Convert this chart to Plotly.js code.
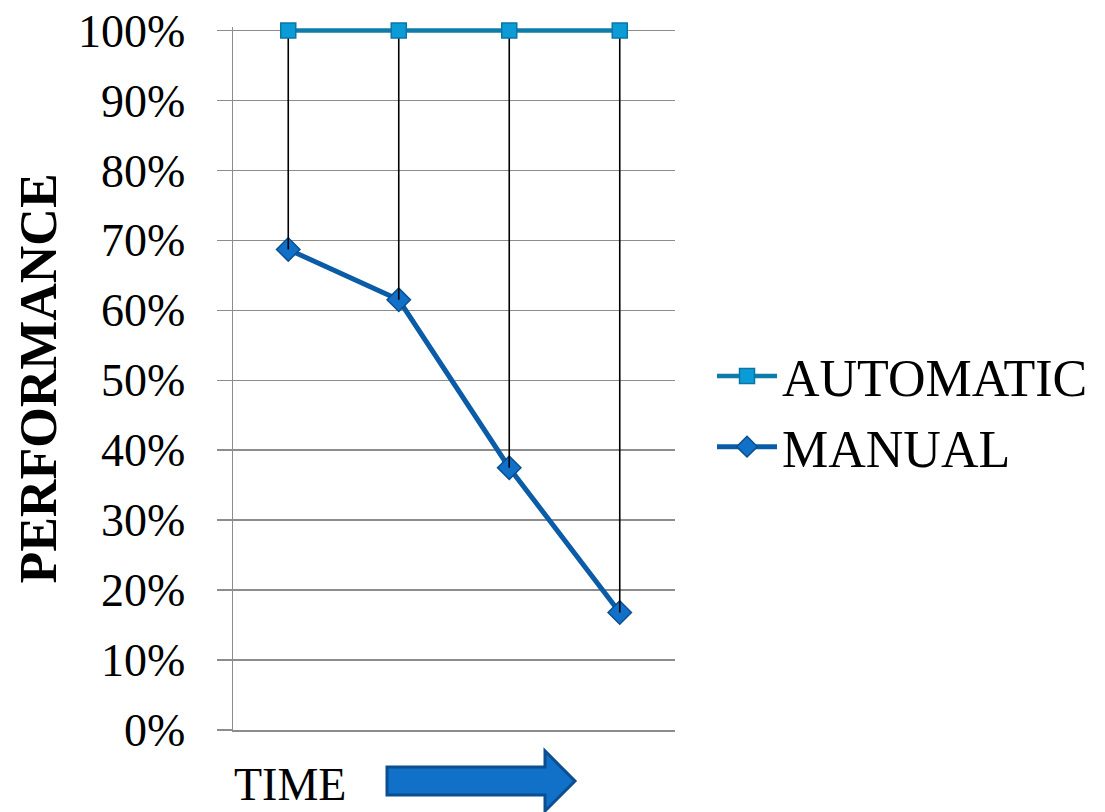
<!DOCTYPE html>
<html>
<head>
<meta charset="utf-8">
<script src="https://cdn.plot.ly/plotly-3.0.1.min.js"></script>
<style>html,body{margin:0;padding:0;background:#fff;}#chart{width:1105px;height:812px;}</style>
</head>
<body>
<div id="chart"></div>
<script>
// Data
const timePoints = ['T1', 'T2', 'T3', 'T4'];
const automatic = [100, 100, 100, 100];
const manual = [68.7, 61.5, 37.5, 16.8];
const yTicks = [0, 10, 20, 30, 40, 50, 60, 70, 80, 90, 100];
const yTickLabels = ['0%', '10%', '20%', '30%', '40%', '50%', '60%', '70%', '80%', '90%', '100%'];

// drop lines from AUTOMATIC down to MANUAL (high-low lines)
const gap = automatic.map((v, i) => v - manual[i]);

const FONT = '"Liberation Serif", "Times New Roman", serif';

const traces = [
  {
    name: 'MANUAL',
    x: timePoints,
    y: manual,
    type: 'scatter',
    mode: 'lines+markers',
    legendrank: 2,
    cliponaxis: false,
    line: {color: '#0B5CA6', width: 5},
    marker: {symbol: 'diamond', size: 18, color: '#1170C8', line: {color: '#0B4F90', width: 1.5}},
    hoverinfo: 'x+y'
  },
  {
    name: 'AUTOMATIC',
    x: timePoints,
    y: automatic,
    type: 'scatter',
    mode: 'lines+markers',
    legendrank: 1,
    cliponaxis: false,
    line: {color: '#0F7BA8', width: 4.5},
    marker: {symbol: 'square', size: 15, color: '#0B9CD8', line: {color: '#0A76A6', width: 1.5}},
    error_y: {type: 'data', symmetric: false, array: automatic.map(() => 0), arrayminus: gap,
              color: '#000000', thickness: 1.6, width: 0},
    hoverinfo: 'x+y'
  }
];

const MT = 26.5, MB = 82, ML = 233, MR = 430;
const PW = 1105 - ML - MR, PH = 812 - MT - MB;
const px = (p) => (p - ML) / PW;
const py = (p) => (812 - MB - p) / PH;
const arrowPath = 'M' + px(387) + ',' + py(767) +
  ' L' + px(545) + ',' + py(767) +
  ' L' + px(545) + ',' + py(751) +
  ' L' + px(575) + ',' + py(781) +
  ' L' + px(545) + ',' + py(811) +
  ' L' + px(545) + ',' + py(795) +
  ' L' + px(387) + ',' + py(795) + ' Z';

const layout = {
  width: 1105,
  height: 812,
  margin: {l: ML, r: MR, t: MT, b: MB, pad: 0},
  paper_bgcolor: '#ffffff',
  plot_bgcolor: '#ffffff',
  font: {family: FONT, color: '#000000'},
  showlegend: true,
  legend: {
    x: px(712), xanchor: 'left', y: py(411.5), yanchor: 'middle',
    tracegroupgap: 14,
    font: {family: FONT, size: 52, color: '#000000'},
    itemwidth: 60, bgcolor: 'rgba(0,0,0,0)'
  },
  xaxis: {
    type: 'category',
    range: [-0.5, 3.5],
    showticklabels: false,
    ticks: '',
    showgrid: false,
    showline: true,
    linecolor: '#8C8C8C',
    linewidth: 1.5,
    zeroline: false,
    fixedrange: true
  },
  yaxis: {
    range: [0, 100.5],
    tickmode: 'array',
    tickvals: yTicks,
    ticktext: yTickLabels,
    ticks: 'outside',
    ticklen: 15,
    tickwidth: 1.5,
    tickcolor: '#8C8C8C',
    ticklabelstandoff: 22,
    tickfont: {family: FONT, size: 46, color: '#000000'},
    showgrid: true,
    gridcolor: '#8C8C8C',
    gridwidth: 1.5,
    showline: true,
    linecolor: '#8C8C8C',
    linewidth: 1.5,
    zeroline: false,
    fixedrange: true,
    title: {text: '<b>PERFORMANCE</b>', font: {family: FONT, size: 52, color: '#000000'}, standoff: 5}
  },
  annotations: [
    {
      text: 'TIME', xref: 'paper', yref: 'paper',
      x: px(232), y: py(812), xanchor: 'left', yanchor: 'bottom',
      showarrow: false,
      font: {family: FONT, size: 46, color: '#000000'}
    }
  ],
  shapes: [
    {
      type: 'path', xref: 'paper', yref: 'paper', path: arrowPath,
      fillcolor: '#1170C8', line: {color: '#0B4F90', width: 3}, layer: 'above'
    }
  ]
};

Plotly.newPlot('chart', traces, layout, {displayModeBar: false, staticPlot: true});
</script>
</body>
</html>
